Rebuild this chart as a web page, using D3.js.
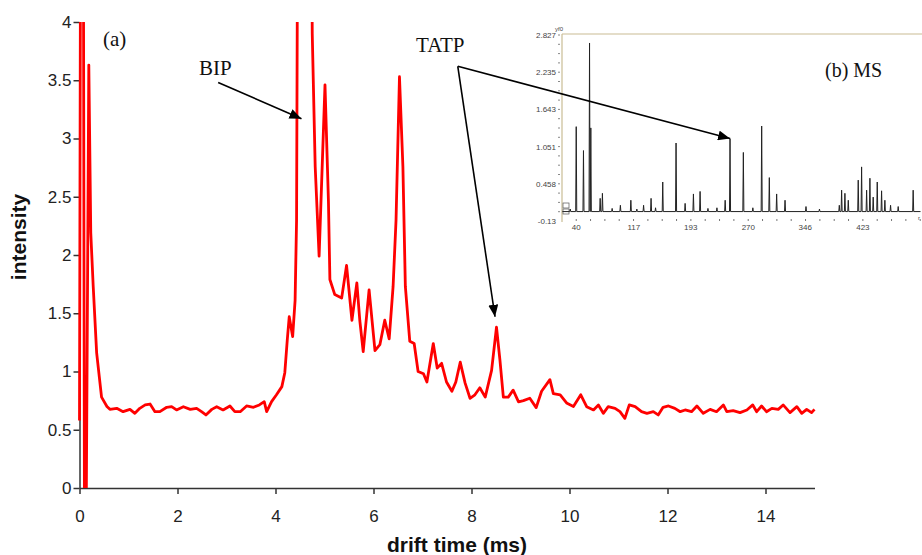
<!DOCTYPE html>
<html>
<head>
<meta charset="utf-8">
<script src="https://cdn.jsdelivr.net/npm/d3@7"></script>
<style>
  body { margin: 0; background: #fff; }
  svg { display: block; }
  .axis text { font-family: "Liberation Sans", Arial, sans-serif; font-size: 17px; fill: #222; }
  .axis path, .axis line { stroke: #333; stroke-width: 1.5; }
  .title { font-family: "Liberation Sans", Arial, sans-serif; font-weight: bold; font-size: 21px; fill: #111; }
  .note { font-family: "Liberation Serif", "Times New Roman", serif; font-size: 21px; fill: #111; }
  .ms text { font-family: "Liberation Sans", Arial, sans-serif; font-size: 8px; fill: #444; }
  .ms text.note { font-family: "Liberation Serif", "Times New Roman", serif; font-size: 20px; fill: #111; }
</style>
</head>
<body>
<script>
// Drift time spectrum (a)
let driftTime = [0, 0.02, 0.08, 0.10, 0.14, 0.19, 0.23, 0.28, 0.35, 0.45, 0.56, 0.62, 0.76, 0.89,
  1.03, 1.13, 1.23, 1.34, 1.44, 1.54, 1.64, 1.78, 1.88, 1.98, 2.12, 2.26, 2.39, 2.49, 2.58, 2.70,
  2.80, 2.93, 3.07, 3.17, 3.28, 3.41, 3.55, 3.67, 3.77, 3.82, 3.92, 4.02, 4.13, 4.19, 4.24, 4.28,
  4.35, 4.40, 4.43, 4.46, 4.72, 4.75, 4.81, 4.89, 5.01, 5.08, 5.11, 5.21, 5.35, 5.45, 5.56, 5.66,
  5.72, 5.79, 5.91, 6.03, 6.13, 6.23, 6.32, 6.40, 6.46, 6.53, 6.60, 6.65, 6.74, 6.83, 6.91, 7.02,
  7.09, 7.22, 7.30, 7.39, 7.49, 7.60, 7.68, 7.77, 7.87, 7.97, 8.07, 8.17, 8.28, 8.41, 8.51, 8.58,
  8.65, 8.75, 8.85, 8.96, 9.06, 9.19, 9.32, 9.43, 9.60, 9.67, 9.81, 9.94, 10.08, 10.23, 10.35,
  10.49, 10.59, 10.69, 10.79, 10.93, 11.03, 11.13, 11.22, 11.34, 11.47, 11.58, 11.71, 11.81, 11.91,
  12.02, 12.15, 12.26, 12.36, 12.49, 12.60, 12.73, 12.87, 13.00, 13.14, 13.21, 13.34, 13.48, 13.62,
  13.74, 13.82, 13.92, 14.02, 14.13, 14.26, 14.36, 14.50, 14.64, 14.74, 14.84, 14.94, 15.00];
let intensity = [0.58, 4.6, 4.6, 0, 0, 3.63, 2.19, 1.73, 1.16, 0.78, 0.70, 0.675, 0.684, 0.655,
  0.675, 0.641, 0.684, 0.713, 0.721, 0.655, 0.655, 0.693, 0.698, 0.67, 0.698, 0.675, 0.684, 0.655, 0.627, 0.675,
  0.698, 0.67, 0.704, 0.655, 0.655, 0.704, 0.693, 0.713, 0.741, 0.655, 0.741, 0.80, 0.87, 0.99, 1.27, 1.47,
  1.30, 1.61, 2.30, 6.0, 6.0, 3.9, 2.76, 1.99, 3.46, 2.47, 1.79, 1.66, 1.63, 1.91, 1.44, 1.76,
  1.44, 1.17, 1.70, 1.18, 1.23, 1.44, 1.28, 1.73, 2.30, 3.53, 2.76, 1.73, 1.26, 1.24, 1.00, 0.98,
  0.91, 1.24, 1.03, 1.07, 0.91, 0.83, 0.91, 1.08, 0.90, 0.77, 0.80, 0.86, 0.78, 1.01, 1.38, 1.10,
  0.78, 0.78, 0.84, 0.74, 0.75, 0.77, 0.69, 0.83, 0.93, 0.81, 0.80, 0.73, 0.70, 0.80, 0.698,
  0.67, 0.713, 0.641, 0.698, 0.684, 0.655, 0.598, 0.713, 0.698, 0.655, 0.641, 0.655, 0.627, 0.693,
  0.704, 0.684, 0.655, 0.67, 0.655, 0.704, 0.641, 0.675, 0.655, 0.713, 0.655, 0.664, 0.647, 0.67,
  0.713, 0.655, 0.704, 0.655, 0.684, 0.675, 0.713, 0.647, 0.698, 0.641, 0.675, 0.647, 0.675];

let xTicks = [0, 2, 4, 6, 8, 10, 12, 14];
let yTicks = [0, 0.5, 1, 1.5, 2, 2.5, 3, 3.5, 4];

// Mass spectrum inset (b): peak m/z and height
let msMz = [32, 40, 49.7, 57.8, 59.5, 72, 75, 88, 99, 113, 121, 130, 140, 146, 155.6, 173.4, 185.5,
  196.6, 205.5, 216, 228, 239, 245.5, 263.3, 276, 287.8, 298, 307.8, 319, 347, 365, 391.5, 394.6,
  399, 403.5, 416.8, 421.3, 428, 432.4, 436.8, 442.2, 448, 452.4, 460, 470.2, 490.2];
let msInt = [0.06, 1.37, 0.99, 2.70, 1.35, 0.23, 0.31, 0.07, 0.12, 0.20, 0.06, 0.12, 0.23, 0.08, 0.49, 1.11, 0.15,
  0.30, 0.34, 0.07, 0.08, 0.20, 1.18, 0.96, 0.08, 1.38, 0.56, 0.30, 0.20, 0.10, 0.06, 0.12, 0.36,
  0.31, 0.20, 0.52, 0.73, 0.36, 0.55, 0.25, 0.49, 0.35, 0.20, 0.12, 0.10, 0.36];
let msXLabels = [40, 117, 193, 270, 346, 423];
let msYLabels = ["2.827", "2.235", "1.643", "1.051", "0.458", "-0.13"];

let width = 922, height = 555;
let svg = d3.select("body").append("svg")
  .attr("width", width)
  .attr("height", height);

// Scales for the main plot
let x = d3.scaleLinear().domain([0, 15]).range([79.5, 814.5]);
let y = d3.scaleLinear().domain([0, 4]).range([488, 22]);

svg.append("defs").append("clipPath")
  .attr("id", "plotClip")
  .append("rect")
  .attr("x", 70).attr("y", y(4))
  .attr("width", 760).attr("height", y(0) - y(4));

// Arrow head marker
svg.select("defs").append("marker")
  .attr("id", "head")
  .attr("viewBox", "0 0 12 10")
  .attr("refX", 12).attr("refY", 5)
  .attr("markerWidth", 12).attr("markerHeight", 10)
  .attr("markerUnits", "userSpaceOnUse")
  .attr("orient", "auto")
  .append("path")
  .attr("d", "M0,0L12,5L0,10Z")
  .attr("fill", "#000");

// Axes
svg.append("g")
  .attr("class", "axis")
  .attr("transform", "translate(0," + y(0) + ")")
  .call(d3.axisBottom(x).tickValues(xTicks).tickSize(6).tickSizeOuter(0).tickPadding(16)
    .tickFormat(d3.format("d")));

svg.append("g")
  .attr("class", "axis")
  .attr("transform", "translate(" + x(0) + ",0)")
  .call(d3.axisLeft(y).tickValues(yTicks).tickSize(6).tickSizeOuter(0).tickPadding(2)
    .tickFormat(d => d3.format("")(d)));

svg.append("text")
  .attr("class", "title")
  .attr("x", 457).attr("y", 552)
  .attr("text-anchor", "middle")
  .text("drift time (ms)");

svg.append("text")
  .attr("class", "title")
  .attr("transform", "translate(26," + 237 + ") rotate(-90)")
  .attr("text-anchor", "middle")
  .text("intensity");

// Drift time trace
let pts = driftTime.map((t, i) => [t, intensity[i]]);
let line = d3.line().x(d => x(d[0])).y(d => y(d[1]));
svg.append("path")
  .datum(pts)
  .attr("clip-path", "url(#plotClip)")
  .attr("d", line)
  .attr("fill", "none")
  .attr("stroke", "#ff0000")
  .attr("stroke-width", 2.8)
  .attr("stroke-linejoin", "round");

// Inset (b) MS
let mx = d3.scaleLinear().domain([21, 502]).range([562, 922]);
let my = d3.scaleLinear().domain([-0.13, 2.827]).range([221, 35]);
let ms = svg.append("g").attr("class", "ms");

ms.append("rect")
  .attr("x", 530).attr("y", 24).attr("width", 392).attr("height", 212)
  .attr("fill", "#fff");
ms.append("line")
  .attr("x1", 562).attr("x2", 922).attr("y1", 34).attr("y2", 34)
  .attr("stroke", "#c9bc94").attr("stroke-width", 1.2);
ms.append("line")
  .attr("x1", 562).attr("x2", 562).attr("y1", 34).attr("y2", 222)
  .attr("stroke", "#c9bc94").attr("stroke-width", 1.2);

// y labels and minor ticks of the inset
let yStep = (2.827 + 0.13) / 5;
msYLabels.forEach((s, i) => {
  let v = 2.827 - i * yStep;
  ms.append("text")
    .attr("x", 556).attr("y", my(v) + 3)
    .attr("text-anchor", "end")
    .text(s);
  for (let k = 0; k < 4 && i < 5; k++) {
    ms.append("line")
      .attr("x1", 558).attr("x2", 560)
      .attr("y1", my(v - k * yStep / 4)).attr("y2", my(v - k * yStep / 4))
      .attr("stroke", "#888");
  }
});
ms.append("text").attr("x", 555).attr("y", 31).style("font-size", "6px").text("yf0");

// x labels and ticks of the inset
let xStep = (423 - 40) / 5;
msXLabels.forEach(v => {
  ms.append("text")
    .attr("x", mx(v)).attr("y", 230)
    .attr("text-anchor", "middle")
    .text(v);
});
for (let m = 40; m < 500; m += xStep / 4) {
  ms.append("line")
    .attr("x1", mx(m)).attr("x2", mx(m)).attr("y1", 219).attr("y2", 221)
    .attr("stroke", "#777");
}
ms.append("text").attr("x", 918).attr("y", 220).style("font-size", "6px").text("r");
ms.append("rect").attr("x", 563).attr("y", 203).attr("width", 6).attr("height", 5)
  .attr("fill", "none").attr("stroke", "#555").attr("stroke-width", 0.7);
ms.append("rect").attr("x", 563).attr("y", 209).attr("width", 6).attr("height", 5)
  .attr("fill", "none").attr("stroke", "#555").attr("stroke-width", 0.7);

// spectrum as a line through baseline and peak tops
let base = 0.02;
let msPts = [[21.5, base]];
msMz.forEach((m, i) => {
  msPts.push([m - 0.7, base], [m, msInt[i]], [m + 0.7, base]);
});
msPts.push([500, base]);
ms.append("path")
  .datum(msPts)
  .attr("d", d3.line().x(d => mx(d[0])).y(d => my(d[1])))
  .attr("fill", "none")
  .attr("stroke", "#222")
  .attr("stroke-width", 1);

ms.append("text")
  .attr("class", "note")
  .attr("x", 825).attr("y", 77)
  .text("(b) MS");

// Annotations
svg.append("text").attr("class", "note").attr("x", 103).attr("y", 46).text("(a)");
svg.append("text").attr("class", "note").attr("x", 199).attr("y", 75).text("BIP");
svg.append("text").attr("class", "note").attr("x", 416).attr("y", 52).text("TATP");

function arrow(x1, y1, x2, y2) {
  svg.append("line")
    .attr("x1", x1).attr("y1", y1).attr("x2", x2).attr("y2", y2)
    .attr("stroke", "#000").attr("stroke-width", 1.6)
    .attr("marker-end", "url(#head)");
}
arrow(x(2.83), y(3.48), x(4.53), y(3.17));
arrow(x(7.72), y(3.62), x(8.48), y(1.47));
arrow(x(7.72), y(3.62), mx(245.5), my(1.18));
</script>
</body>
</html>
